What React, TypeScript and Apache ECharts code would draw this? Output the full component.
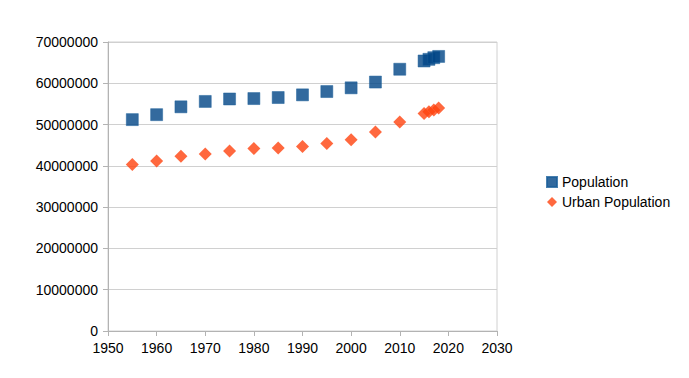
import React, { useEffect, useRef } from "react";
import * as echarts from "echarts";

const years = [1955, 1960, 1965, 1970, 1975, 1980, 1985, 1990, 1995, 2000, 2005, 2010, 2015, 2016, 2017, 2018];
const population = [51200000, 52400000, 54300000, 55600000, 56200000, 56300000, 56550000, 57200000, 58000000, 58900000, 60300000, 63400000, 65400000, 65800000, 66200000, 66500000];
const urbanPopulation = [40300000, 41200000, 42300000, 42900000, 43600000, 44200000, 44300000, 44700000, 45400000, 46300000, 48200000, 50600000, 52700000, 53100000, 53500000, 54000000];
const seriesNames = ["Population", "Urban Population"];

export default function App() {
  const ref = useRef<HTMLDivElement>(null);
  useEffect(() => {
    document.body.style.margin = "0";
    const chart = echarts.init(ref.current!, null, { renderer: "svg" });
    const font = "'Liberation Sans', Arial, sans-serif";
    chart.setOption({
      animation: false,
      backgroundColor: "#ffffff",
      textStyle: { fontFamily: font },
      grid: {
        left: 108,
        right: 192,
        top: 42,
        bottom: 47,
        containLabel: false,
        show: true,
        borderColor: "#d0d0d0",
        borderWidth: 1,
      },
      legend: {
        orient: "vertical",
        left: 541,
        top: 170,
        itemWidth: 10,
        itemHeight: 10,
        itemGap: 6,
        textStyle: { fontFamily: font, fontSize: 14, color: "#000" },
        data: [
          { name: seriesNames[0], icon: "rect" },
          { name: seriesNames[1], icon: "diamond" },
        ],
      },
      xAxis: {
        type: "value",
        min: 1950,
        max: 2030,
        interval: 10,
        axisLine: { show: true, lineStyle: { color: "#b3b3b3", width: 1 } },
        axisTick: { show: true, length: 5, lineStyle: { color: "#b3b3b3" } },
        axisLabel: { color: "#000", fontSize: 14, fontFamily: font, margin: 10, formatter: (v: number) => String(v) },
        splitLine: { show: false },
      },
      yAxis: {
        type: "value",
        min: 0,
        max: 70000000,
        interval: 10000000,
        axisLine: { show: true, lineStyle: { color: "#b3b3b3", width: 1 } },
        axisTick: { show: true, length: 5, lineStyle: { color: "#b3b3b3" } },
        axisLabel: { color: "#000", fontSize: 14, fontFamily: font, margin: 10, formatter: (v: number) => String(v) },
        splitLine: { show: true, lineStyle: { color: "#d0d0d0", width: 1 } },
      },
      series: [
        {
          name: seriesNames[0],
          type: "scatter",
          symbol: "rect",
          symbolSize: 12,
          itemStyle: { color: "#004586", borderColor: "#1a5f9a", borderWidth: 0.6 },
          data: years.map((y, i) => [y, population[i]]),
        },
        {
          name: seriesNames[1],
          type: "scatter",
          symbol: "diamond",
          symbolSize: 13,
          itemStyle: { color: "#ff420e" },
          data: years.map((y, i) => [y, urbanPopulation[i]]),
        },
      ],
    });
    return () => chart.dispose();
  }, []);
  return <div ref={ref} style={{ width: 689, height: 378 }} />;
}
